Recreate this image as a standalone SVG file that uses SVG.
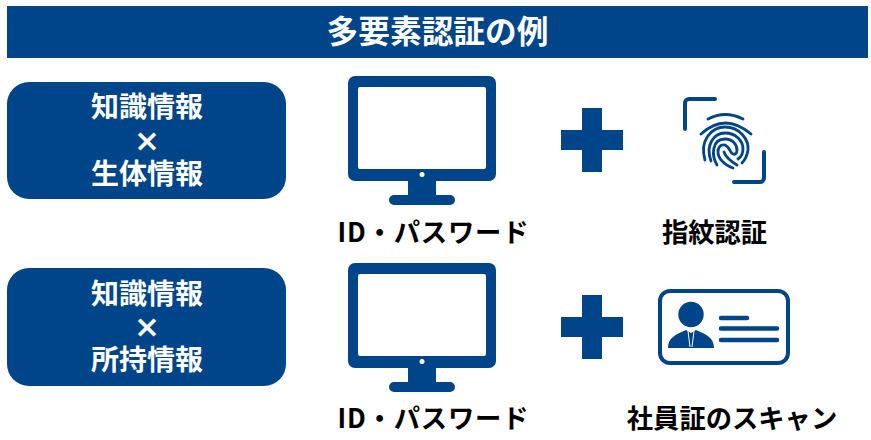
<svg xmlns="http://www.w3.org/2000/svg" width="871" height="440" viewBox="0 0 871 440">
<defs>
<style>
.f{fill:#004489}
.s{fill:none;stroke:#004489;stroke-linecap:round;stroke-linejoin:round}
text{font-family:"Noto Sans CJK JP","Liberation Sans",sans-serif;font-weight:700;text-anchor:middle}
.t{fill:#fff;font-size:31.700px}
.w{fill:#fff;font-size:28px}
.x{fill:#fff;font-size:31px;font-family:"DejaVu Sans",sans-serif}
.k{fill:#000;font-size:26.300px}
</style>
<g id="monitor">
<path class="f" fill-rule="evenodd" d="M355 76H489a7 7 0 0 1 7 7V174a7 7 0 0 1-7 7H436V195H450a5 5 0 0 1 0 10H394a5 5 0 0 1 0-10H408V181H355a7 7 0 0 1-7-7V83a7 7 0 0 1 7-7ZM360 87a2 2 0 0 0-2 2V167a2 2 0 0 0 2 2H484a2 2 0 0 0 2-2V89a2 2 0 0 0-2-2Z"/>
<circle cx="422" cy="174.500" r="2.500" fill="#fff"/>
</g>
<path id="plus" class="f" d="M582 108H602V130H623V150H602V172H582V150H561V130H582Z"/>
</defs>
<rect width="871" height="440" fill="#fff"/>
<g id="title"><rect class="f" x="7" y="6" width="861" height="52"/><text class="t" x="437.500" y="43">多要素認証の例</text></g>
<g id="node-knowledge-bio"><rect class="f" x="7" y="82" width="279" height="117" rx="22"/><text class="w" x="147" y="117">知識情報</text><text class="x" x="147" y="151">×</text><text class="w" x="147" y="184">生体情報</text></g>
<g id="node-knowledge-possession"><rect class="f" x="7" y="268" width="279" height="118" rx="22"/><text class="w" x="147" y="304">知識情報</text><text class="x" x="147" y="337">×</text><text class="w" x="147" y="370">所持情報</text></g>
<g id="node-password-1"><use href="#monitor"/><text class="k" x="433" y="242" textLength="191" lengthAdjust="spacing">ID・パスワード</text></g>
<g id="node-plus-1"><use href="#plus"/></g>
<g id="node-fingerprint">
<path class="s" stroke-width="4" d="M715 99H689a4 4 0 0 0-4 4V129M764 152V178a4 4 0 0 1-4 4H734"/>
<g class="s" stroke-width="2.800">
<path d="M708 119Q725 110 743 119"/>
<path d="M701 134Q725 112 751 134"/>
<path d="M705 160C699 140 712 127 725 127C740 127 749 140 748 150C747 156 745 160 742 163"/>
<path d="M711 161C705 145 714 133 725 133C736 133 743 141 743 149C743 154 741 157 738 159"/>
<path d="M717 165C711 155 712 139 725 139C733 139 737 145 737 150C737 153 735 155 733 154C730 153 730 147 725 145C720 144 718 148 718 152C718 158 724 165 733 168"/>
<path d="M724 152C726 158 732 162 737 165"/>
</g>
<text class="k" x="714.500" y="242">指紋認証</text></g>
<g id="node-password-2"><use href="#monitor" y="187"/><text class="k" x="433" y="428" textLength="191" lengthAdjust="spacing">ID・パスワード</text></g>
<g id="node-plus-2"><use href="#plus" y="187"/></g>
<g id="node-idcard">
<rect x="660" y="291" width="128" height="72" rx="10" fill="none" stroke="#004489" stroke-width="4"/>
<circle class="f" cx="691" cy="314.500" r="12.700"/>
<path class="f" d="M668 348C668 337 677 334 686 330L691 333L696 330C705 334 714 337 714 348Z"/>
<path d="M688 331L690 347M694 331L692 347" stroke="#fff" stroke-width="1" fill="none"/>
<path class="s" stroke-width="4.500" d="M721 318H747M721 328.500H777M721 340H777"/>
<text class="k" x="732" y="428">社員証のスキャン</text></g>
</svg>
